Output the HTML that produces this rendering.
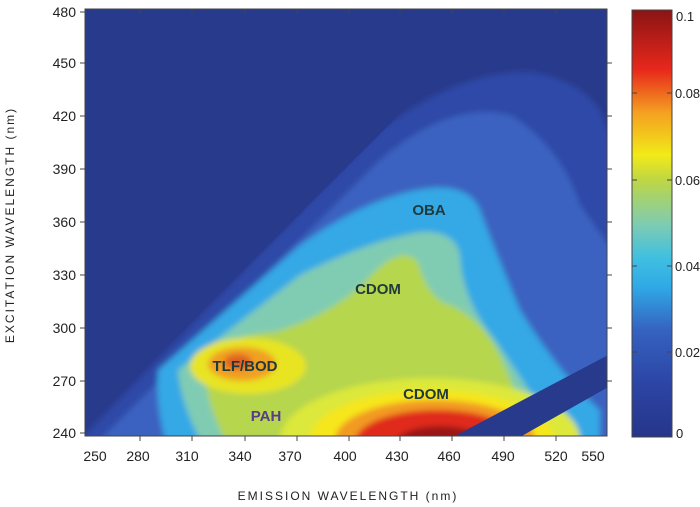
<!DOCTYPE html>
<html><head><meta charset="utf-8"><style>
html,body{margin:0;padding:0;background:#fff;}
svg{display:block;font-family:"Liberation Sans",sans-serif;}
</style></head><body>
<svg width="700" height="507" viewBox="0 0 700 507" xmlns="http://www.w3.org/2000/svg">
<defs>
<filter id="b" x="-10%" y="-10%" width="120%" height="120%"><feGaussianBlur stdDeviation="3"/></filter>
<clipPath id="plot"><rect x="85" y="9" width="522" height="427"/></clipPath>
<clipPath id="diag"><polygon points="80,438 80,434 480,34 610,34 610,438"/></clipPath>
<linearGradient id="cb" x1="0" y1="1" x2="0" y2="0">
<stop offset="0" stop-color="#25368a"/>
<stop offset="0.12" stop-color="#2c44a4"/>
<stop offset="0.25" stop-color="#3562c0"/>
<stop offset="0.35" stop-color="#2fa8e6"/>
<stop offset="0.42" stop-color="#40c0e0"/>
<stop offset="0.5" stop-color="#80ccb0"/>
<stop offset="0.6" stop-color="#bcd646"/>
<stop offset="0.66" stop-color="#f2ea18"/>
<stop offset="0.76" stop-color="#f4a020"/>
<stop offset="0.86" stop-color="#e8281c"/>
<stop offset="1" stop-color="#8a1414"/>
</linearGradient>
</defs>
<rect x="85" y="9" width="522" height="427" fill="#283a8c"/>
<g clip-path="url(#plot)">
<g clip-path="url(#diag)">
<g filter="url(#b)">
<path d="M80,440 L380,130 Q460,70 530,72 Q580,80 600,110 L612,140 L612,440 Z" fill="#2f4aa8"/>
<path d="M100,440 L380,160 Q450,100 510,115 Q560,145 580,205 L612,250 L612,440 Z" fill="#3a62c0"/>
<path d="M165,440 Q155,400 158,370 L300,245 Q370,195 430,188 Q470,185 480,210 Q495,250 520,310 Q560,375 600,410 L600,440 Z" fill="#36a8e6"/>
<path d="M200,440 Q180,400 178,370 L300,275 Q370,240 420,232 Q455,230 460,255 Q462,300 495,340 Q530,390 560,440 Z" fill="#80ccb2"/>
<path d="M225,440 Q205,400 205,370 Q215,335 275,332 Q330,315 365,282 Q400,242 418,262 Q425,290 442,302 Q482,315 502,360 Q520,400 532,440 Z" fill="#b6d64e"/>
<ellipse cx="248" cy="366" rx="58" ry="28" fill="#e8e424"/>
<ellipse cx="242" cy="364" rx="34" ry="17" fill="#f0a024"/>
<ellipse cx="238" cy="362" rx="14" ry="8" fill="#e06020"/>
<ellipse cx="430" cy="440" rx="150" ry="62" fill="#dce83a"/>
<ellipse cx="432" cy="440" rx="122" ry="50" fill="#f6e61a"/>
<ellipse cx="435" cy="440" rx="100" ry="40" fill="#f29a20"/>
<ellipse cx="437" cy="442" rx="82" ry="32" fill="#e02a1c"/>
<ellipse cx="440" cy="444" rx="45" ry="18" fill="#9a1414"/>
</g>
</g>
<polygon points="453,437 520,437 610,386 610,354" fill="#283a8c"/>
</g>
<rect x="85" y="9" width="522" height="427" fill="none" stroke="#444" stroke-width="1"/>
<g stroke="#444" stroke-width="1">
<line x1="140" y1="9" x2="140" y2="14"/><line x1="192" y1="9" x2="192" y2="14"/><line x1="245" y1="9" x2="245" y2="14"/><line x1="297" y1="9" x2="297" y2="14"/><line x1="349" y1="9" x2="349" y2="14"/><line x1="400" y1="9" x2="400" y2="14"/><line x1="452" y1="9" x2="452" y2="14"/><line x1="504" y1="9" x2="504" y2="14"/><line x1="556" y1="9" x2="556" y2="14"/>
<line x1="140" y1="436" x2="140" y2="441"/><line x1="192" y1="436" x2="192" y2="441"/><line x1="245" y1="436" x2="245" y2="441"/><line x1="297" y1="436" x2="297" y2="441"/><line x1="349" y1="436" x2="349" y2="441"/><line x1="400" y1="436" x2="400" y2="441"/><line x1="452" y1="436" x2="452" y2="441"/><line x1="504" y1="436" x2="504" y2="441"/><line x1="556" y1="436" x2="556" y2="441"/>
<line x1="80" y1="12" x2="85" y2="12"/><line x1="80" y1="63" x2="85" y2="63"/><line x1="80" y1="116" x2="85" y2="116"/><line x1="80" y1="169" x2="85" y2="169"/><line x1="80" y1="222" x2="85" y2="222"/><line x1="80" y1="275" x2="85" y2="275"/><line x1="80" y1="328" x2="85" y2="328"/><line x1="80" y1="381" x2="85" y2="381"/><line x1="80" y1="433" x2="85" y2="433"/>
<line x1="607" y1="63" x2="612" y2="63"/><line x1="607" y1="116" x2="612" y2="116"/><line x1="607" y1="169" x2="612" y2="169"/><line x1="607" y1="222" x2="612" y2="222"/><line x1="607" y1="275" x2="612" y2="275"/><line x1="607" y1="328" x2="612" y2="328"/><line x1="607" y1="381" x2="612" y2="381"/>
</g>
<g font-size="14" fill="#222" text-anchor="end">
<text x="76" y="17">480</text><text x="76" y="68">450</text><text x="76" y="121">420</text><text x="76" y="174">390</text><text x="76" y="227">360</text><text x="76" y="280">330</text><text x="76" y="333">300</text><text x="76" y="386">270</text><text x="76" y="438">240</text>
</g>
<g font-size="14" fill="#222" text-anchor="middle">
<text x="95" y="461">250</text><text x="138" y="461">280</text><text x="187" y="461">310</text><text x="240" y="461">340</text><text x="290" y="461">370</text><text x="345" y="461">400</text><text x="397" y="461">430</text><text x="449" y="461">460</text><text x="503" y="461">490</text><text x="556" y="461">520</text><text x="593" y="461">550</text>
</g>
<text x="348" y="500" font-size="12" fill="#222" text-anchor="middle" letter-spacing="2">EMISSION WAVELENGTH (nm)</text>
<text transform="translate(14,225) rotate(-90)" font-size="12" fill="#222" text-anchor="middle" letter-spacing="2">EXCITATION WAVELENGTH (nm)</text>
<g font-weight="bold" font-size="15" fill="#1f3a3a" text-anchor="middle">
<text x="429" y="215">OBA</text>
<text x="378" y="294">CDOM</text>
<text x="245" y="371">TLF/BOD</text>
<text x="426" y="399">CDOM</text>
<text x="266" y="421" fill="#5a3a8a">PAH</text>
</g>
<rect x="632" y="10" width="40" height="427" fill="url(#cb)" stroke="#444" stroke-width="1"/>
<g stroke="#444" stroke-width="1">
<line x1="667" y1="93" x2="672" y2="93"/><line x1="667" y1="180" x2="672" y2="180"/><line x1="667" y1="266" x2="672" y2="266"/><line x1="667" y1="352" x2="672" y2="352"/>
<line x1="632" y1="93" x2="637" y2="93"/><line x1="632" y1="180" x2="637" y2="180"/><line x1="632" y1="266" x2="637" y2="266"/><line x1="632" y1="352" x2="637" y2="352"/>
</g>
<g font-size="13" fill="#222">
<text x="676" y="21">0.1</text><text x="675" y="98" textLength="25" lengthAdjust="spacingAndGlyphs">0.08</text><text x="675" y="185" textLength="25" lengthAdjust="spacingAndGlyphs">0.06</text><text x="675" y="271" textLength="25" lengthAdjust="spacingAndGlyphs">0.04</text><text x="675" y="357" textLength="25" lengthAdjust="spacingAndGlyphs">0.02</text><text x="676" y="438">0</text>
</g>
</svg>
</body></html>
